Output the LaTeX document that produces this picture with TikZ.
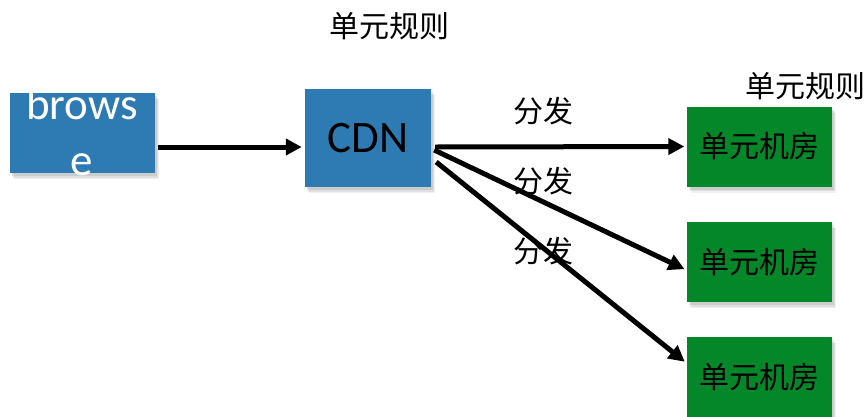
\documentclass[tikz,border=0pt]{standalone}
\usepackage{fontspec}
\setmainfont{Carlito}
\newfontfamily\cjk{Noto Sans CJK SC}
\usetikzlibrary{arrows.meta,positioning,shadows}

\begin{document}
\begin{tikzpicture}[x=1pt, y=-1pt,
  box/.style={rectangle, inner sep=0pt, minimum width=145pt, minimum height=80pt,
    drop shadow={shadow xshift=4pt, shadow yshift=-6pt, opacity=0.12},
    drop shadow={shadow xshift=3pt, shadow yshift=-4.5pt, opacity=0.15},
    drop shadow={shadow xshift=2pt, shadow yshift=-3pt, opacity=0.2}},
  arr/.style={line width=5pt, -{Triangle[length=16pt,width=16pt]}},
  cn/.style={font=\cjk\fontsize{30}{36}\selectfont, inner sep=0pt},
  big/.style={font=\fontsize{45}{56}\selectfont, inner sep=0pt}]
  \useasboundingbox (0,0) rectangle (868,416);

  \definecolor{cblue}{RGB}{46,123,180}
  \definecolor{cgreen}{RGB}{3,135,41}

  % blue boxes
  \node[box, fill=cblue] (browse) at (82.5,133) {};
  \node[big, align=center, text=white] (browsetext) at (82,132.5) {brows\\e};
  \node[box, big, fill=cblue, minimum width=126pt, minimum height=98pt] (cdn) at (368,138) {CDN};

  % green rooms
  \foreach \i/\y in {1/146.5, 2/262, 3/377}
    \node[box, cn, fill=cgreen] (room\i) at (759,\y) {单元机房};

  % labels
  \node[cn] (rule1) at (389,26) {单元规则};
  \node[cn] (rule2) at (805,86) {单元规则};
  \foreach \i/\y in {1/111.5, 2/181.5, 3/251.5}
    \node[cn] (send\i) at (543,\y) {分发};

  % arrows
  \coordinate (b1) at ([shift={(3,14)}]browse.east);
  \draw[arr, shorten >=3pt] (b1) -- (b1 -| cdn.west);
  \foreach \i/\s/\t/\d in {1/9/0/4, 2/12/8/3, 3/24/-14/5}
    \draw[arr, shorten >=2pt] ([shift={(\d,\s)}]cdn.east) -- ([shift={(0,\t)}]room\i.west);
\end{tikzpicture}
\end{document}
